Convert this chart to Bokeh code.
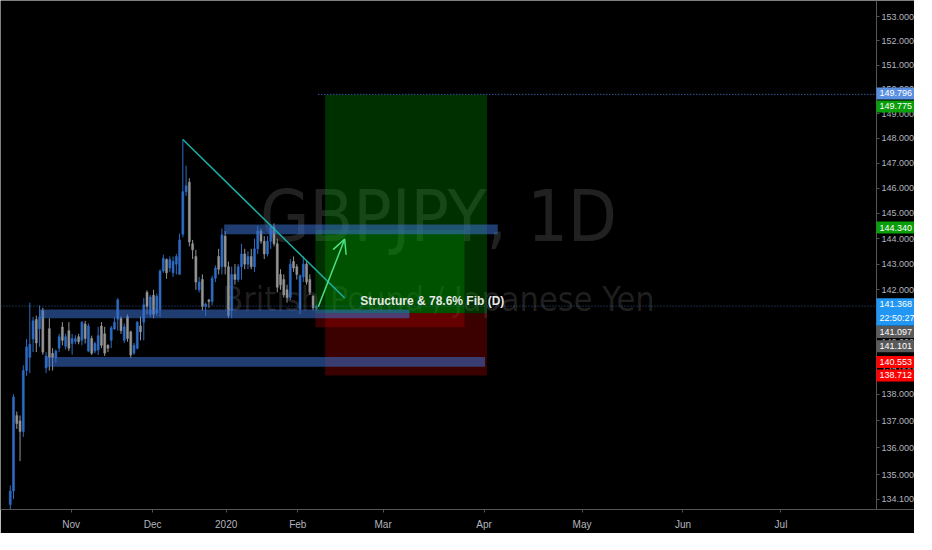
from bokeh.plotting import figure
from bokeh.models import (ColumnDataSource, FixedTicker, PrintfTickFormatter, Range1d,
                          Label, Arrow, OpenHead, LogAxis)
from bokeh.embed import file_html
from bokeh.resources import INLINE

# ---------------- data ----------------
opens = [133.9, 134.4, 137.2, 137.0, 136.6, 138.9, 139.4, 140.1, 140.85, 140.5,
         141.2, 139.0, 140.5, 139.55, 139.4, 139.75, 140.56, 139.82, 140.42, 139.93,
         140.01, 140.19, 140.05, 140.68, 139.64, 140.12, 139.64, 139.68, 140.6, 140.3,
         139.86, 140.05, 140.49, 140.86, 140.9, 140.05, 140.97, 140.38, 139.56, 139.75,
         140.6, 140.75, 141.9, 141.05, 141.79, 141.1, 141.23, 142.73, 143.18, 142.85,
         142.66, 143.0, 142.6, 144.17, 145.86, 146.24, 143.8, 143.3, 142.0, 142.4,
         141.35, 141.6, 141.55, 142.45, 143.3, 142.9, 144.1, 142.9, 141.2, 142.6,
         142.4, 142.9, 143.4, 143.0, 143.3, 142.9, 143.6, 144.3, 143.9, 143.4,
         143.9, 144.45, 143.8, 142.6, 142.4, 142.0, 141.7, 143.1, 142.9, 141.25,
         142.5, 143.0, 142.4, 141.75, 141.28]
highs = [134.6, 138.0, 137.35, 137.2, 139.1, 140.1, 141.5, 140.95, 141.0, 141.4,
         141.3, 139.6, 140.9, 139.75, 139.7, 140.3, 140.75, 140.3, 140.75, 140.3,
         140.25, 140.3, 140.79, 140.8, 140.7, 140.23, 140.0, 140.57, 140.75, 140.57,
         139.9, 140.6, 140.94, 141.68, 140.97, 140.7, 141.05, 140.42, 139.95, 140.79,
         140.97, 141.68, 141.98, 141.8, 142.0, 141.85, 142.8, 143.37, 143.22, 143.3,
         143.3, 143.4, 144.2, 147.96, 146.9, 146.4, 143.95, 143.56, 142.5, 142.6,
         141.5, 141.65, 142.55, 142.95, 143.6, 144.4, 144.3, 143.1, 142.9, 143.0,
         143.0, 143.8, 143.6, 143.5, 143.6, 144.0, 144.5, 144.4, 144.1, 144.1,
         144.55, 144.6, 144.0, 142.8, 142.6, 142.2, 143.2, 143.3, 143.0, 142.6,
         143.3, 143.1, 142.6, 141.8, 141.42]
lows = [133.5, 134.1, 136.7, 135.5, 136.4, 138.7, 138.8, 139.6, 139.6, 139.8,
        139.5, 138.8, 138.9, 138.9, 139.2, 139.6, 139.86, 139.7, 139.64, 139.5,
        139.9, 139.9, 139.86, 139.93, 139.6, 139.49, 139.55, 139.49, 139.75, 139.45,
        139.6, 139.75, 140.45, 140.42, 140.3, 139.95, 140.0, 139.38, 139.5, 139.7,
        140.05, 140.05, 141.05, 140.95, 140.9, 141.0, 140.94, 142.66, 142.43, 142.7,
        142.5, 142.6, 142.6, 144.05, 145.7, 143.7, 143.2, 142.0, 141.9, 141.2,
        141.0, 141.3, 141.4, 142.3, 142.6, 142.6, 142.6, 140.9, 140.9, 142.2,
        142.3, 142.4, 142.8, 142.8, 142.8, 142.7, 143.4, 143.8, 143.2, 143.3,
        143.6, 143.7, 141.9, 142.0, 141.7, 141.5, 141.6, 142.7, 142.4, 141.05,
        142.3, 142.2, 141.8, 141.2, 141.2]
closes = [134.4, 137.9, 136.9, 136.6, 138.9, 139.8, 139.9, 140.8, 139.95, 140.95,
          139.6, 139.45, 139.4, 139.4, 139.64, 140.19, 140.05, 140.19, 139.75, 140.12,
          140.12, 140.0, 140.75, 140.12, 140.6, 139.56, 139.93, 140.23, 139.86, 139.56,
          139.75, 140.53, 140.75, 141.61, 140.42, 140.57, 140.12, 139.49, 139.86, 140.75,
          140.38, 141.42, 141.35, 141.72, 141.05, 141.75, 142.73, 143.22, 142.66, 143.18,
          143.11, 143.3, 143.95, 145.86, 146.1, 143.87, 143.56, 142.3, 142.3, 141.35,
          141.45, 141.55, 142.45, 142.85, 142.8, 144.15, 142.9, 141.0, 142.6, 142.4,
          142.9, 143.4, 143.0, 143.3, 142.9, 143.6, 144.3, 143.9, 143.4, 143.9,
          144.45, 143.8, 142.1, 142.2, 141.8, 141.7, 143.0, 142.85, 142.6, 142.55,
          143.0, 142.3, 141.9, 141.3, 141.37]

# x axis in bar units
month_ticks = [18.7, 43.7, 66.3, 88.3, 114.5, 145.5, 175.6, 206.6, 236.7]
month_labels = ["Nov", "Dec", "2020", "Feb", "Mar", "Apr", "May", "Jun", "Jul"]
price_ticks = [134.1] + [float(v) for v in range(135, 154)]

# drawings
zone_left = [65.7, 9.0, 11.1]
zone_right = [149.7, 122.6, 145.8]
zone_bottom = [144.17, 140.90, 139.04]
zone_top = [144.56, 141.24, 139.41]

pos_left = [96.7, 93.7]
pos_right = [146.4, 139.5]
pos_target = [149.775, 144.340]
pos_entry = [141.097, 141.101]
pos_stop = [138.712, 140.553]

trend_x = [53.0, 102.7]
trend_y = [147.96, 141.68]
arrow_from = (94.6, 141.34)
arrow_to = (102.7, 143.98)
note_pos = (107.5, 141.57)
note_text = "Structure & 78.6% Fib (D)"
last_price = 141.368
hline_price = 149.796
hline_start = 94.6

badge_prices = [149.796, 149.775, 144.340, 141.368, 141.368, 141.097, 141.101, 140.553, 138.712]
badge_texts = ["149.796", "149.775", "144.340", "141.368", "22:50:27", "141.097", "141.101", "140.553", "138.712"]
badge_colors = ["#5b8fe0", "#0b9e0b", "#0b9e0b", "#2196f3", "#2196f3", "#5a5a5a", "#5a5a5a", "#ff0000", "#ff0000"]
badge_shift = [-1, 12, -2.5, -2, 12, 19.5, 34.5, 36, 0]

# ---------------- figure ----------------
FONT = "Liberation Sans"
WM_FONT = "'Liberation Sans Narrow', 'Arial Narrow', 'DejaVu Sans Condensed', 'Liberation Sans', sans-serif"
FW, FH = 914, 509
SY = FH / 527.0
X_MIN, X_MAX = -3.0, 277.7
AXIS_X = 266.0          # price scale position (bar units)

UP = "#2e6cc4"
DOWN = "#959595"

p = figure(frame_width=FW, frame_height=FH, output_backend="svg", toolbar_location=None,
           y_axis_type="log", y_axis_location=None,
           x_range=Range1d(X_MIN, X_MAX), y_range=Range1d(133.72, 153.69),
           min_border_left=0, min_border_top=0, min_border_right=0, min_border_bottom=24)
p.background_fill_color = "black"
p.border_fill_color = "black"
p.outline_line_color = None
p.grid.visible = False

yax = LogAxis(fixed_location=AXIS_X, ticker=FixedTicker(ticks=price_ticks),
              formatter=PrintfTickFormatter(format="%.3f"))
p.add_layout(yax, "right")

for ax in (p.xaxis[0], yax):
    ax.axis_line_color = "#555555"
    ax.major_tick_line_color = "#555555"
    ax.minor_tick_line_color = None
    ax.major_tick_in = 0
    ax.major_label_text_color = "#b2b5be"
    ax.major_label_text_font = FONT

yax.major_label_text_font_size = "9px"
yax.major_tick_out = 3
yax.major_label_standoff = 2

p.xaxis.ticker = FixedTicker(ticks=month_ticks)
p.xaxis.major_label_overrides = {t: l for t, l in zip(month_ticks, month_labels)}
p.xaxis.major_label_text_font_size = "10px"
p.xaxis.major_tick_out = 3
p.xaxis.major_label_standoff = 6

# watermark
for txt, size, frac in [("GBPJPY, 1D", "71px", 0.576), ("British Pound / Japanese Yen", "34px", 0.413)]:
    p.add_layout(Label(x=(AXIS_X - X_MIN) / (X_MAX - X_MIN) * FW / 2, y=FH * frac,
                       x_units="screen", y_units="screen", text=txt,
                       text_align="center", text_baseline="alphabetic", text_font=WM_FONT,
                       text_font_size=size, text_color="#ffffff", text_alpha=0.13, level="underlay"))

# candles
n = len(opens)
xs = list(range(n))
cols = [UP if c >= o else DOWN for o, c in zip(opens, closes)]
src = ColumnDataSource(dict(x=xs, o=opens, h=highs, l=lows, c=closes, col=cols,
                            top=[max(o, c) for o, c in zip(opens, closes)],
                            bot=[min(o, c) for o, c in zip(opens, closes)]))
p.segment(x0="x", y0="h", x1="x", y1="l", source=src, line_color="col", line_width=1)
p.vbar(x="x", width=0.62, top="top", bottom="bot", source=src, fill_color="col", line_color="col", line_width=0.5)

# long positions
p.quad(left=pos_left, right=pos_right, bottom=pos_entry, top=pos_target,
       fill_color="#00a000", fill_alpha=0.3, line_color=None)
p.quad(left=pos_left, right=pos_right, bottom=pos_stop, top=pos_entry,
       fill_color="#c40000", fill_alpha=0.3, line_color=None)

# zones
p.quad(left=zone_left, right=zone_right, bottom=zone_bottom, top=zone_top,
       fill_color="#3b6fd0", fill_alpha=0.55, line_color=None)

# lines
p.line(x=[X_MIN, AXIS_X], y=[last_price, last_price], line_color="#3a6aa6",
       line_alpha=0.8, line_width=1, line_dash="1 2")
p.line(x=[hline_start, AXIS_X], y=[hline_price, hline_price], line_color="#4a7fe0",
       line_width=1, line_dash="1 2")
p.line(x=trend_x, y=trend_y, line_color="#1ab0a4", line_width=1.5)

p.add_layout(Arrow(end=OpenHead(size=14, line_color="#4ddf86", line_width=1.5),
                   x_start=arrow_from[0], y_start=arrow_from[1],
                   x_end=arrow_to[0], y_end=arrow_to[1],
                   line_color="#4ddf86", line_width=1.5))

p.add_layout(Label(x=note_pos[0], y=note_pos[1], text=note_text, text_align="left",
                   text_baseline="middle", text_font=FONT, text_font_size="12px",
                   text_font_style="bold", text_color="#e8e8e8"))

# price badges on the scale
for pr, tx, co, sh in zip(badge_prices, badge_texts, badge_colors, badge_shift):
    p.add_layout(Label(x=AXIS_X, y=pr, x_offset=0, y_offset=-sh * SY,
                       text=tx, text_align="left", text_baseline="middle", text_font=FONT,
                       text_font_size="9px", text_color="#ffffff",
                       background_fill_color=co, background_fill_alpha=1.0, padding=3))

open("out.html", "w").write(file_html(p, INLINE))
